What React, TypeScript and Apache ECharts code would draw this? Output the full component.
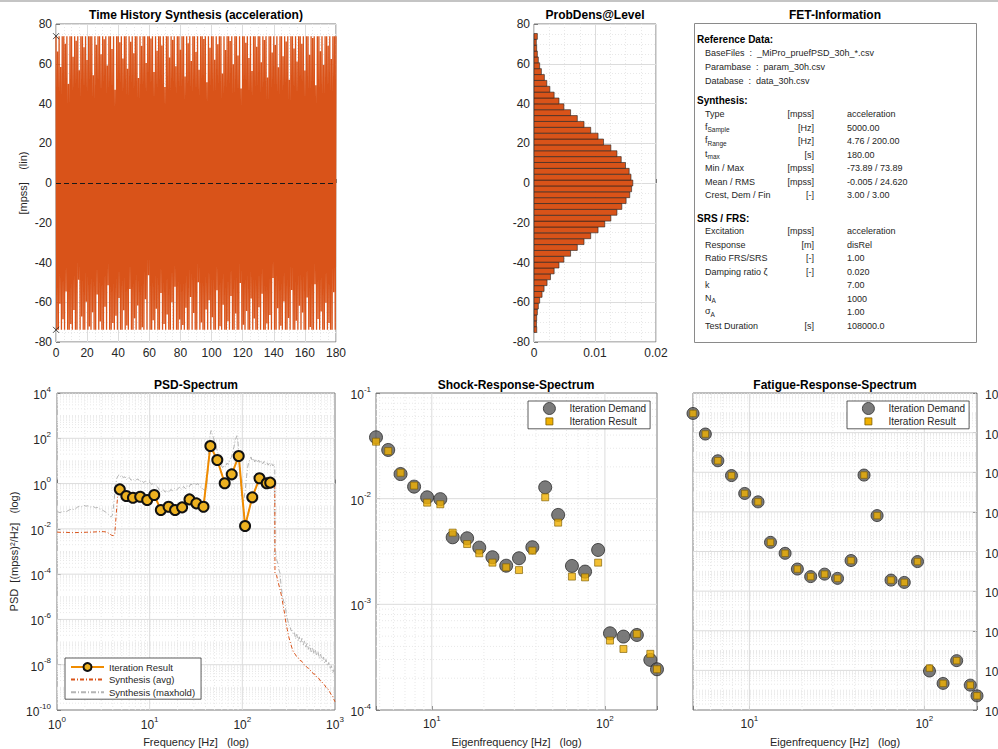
import React, { useEffect, useRef } from "react";
import * as echarts from "echarts";

const FONT = '"Liberation Sans", Arial, Helvetica, sans-serif';
const TXT = "#262626";
const AXC = "#7a7a7a";
const GMAJ = "#dcdcdc";
const GMIN = "#e8e8e8";
const ORANGE = "#d95319";
const YELLOW = "#edb120";

// ---------------- Time history (peaks, alternating upper / lower, 0.5 s apart) ----------------
const thStep = 0.5;
const thUpper = [
  73.89, 66.2, 73.89, 58.4, 73.89, 73.89, 70.1, 73.89, 49.8, 73.89,
  73.89, 63.5, 73.89, 71.6, 73.89, 56.7, 73.89, 73.89, 68.3, 73.89,
  61.9, 73.89, 73.89, 73.89, 54.2, 73.89, 69.5, 73.89, 73.89, 64.8,
  73.89, 72.3, 73.89, 59.1, 73.89, 73.89, 67.4, 73.89, 46.9, 73.89,
  73.89, 70.8, 73.89, 62.6, 73.89, 73.89, 57.5, 73.89, 71.1, 73.89,
  65.3, 73.89, 73.89, 52.8, 73.89, 68.9, 73.89, 73.89, 60.4, 73.89,
  73.89, 72.7, 73.89, 55.9, 73.89, 66.6, 73.89, 73.89, 69.2, 73.89,
  48.3, 73.89, 73.89, 63.1, 73.89, 71.9, 73.89, 58.8, 73.89, 73.89,
  67.0, 73.89, 73.89, 53.6, 73.89, 70.3, 73.89, 61.4, 73.89, 73.89,
  65.9, 73.89, 57.0, 73.89, 73.89, 72.5, 73.89, 50.7, 73.89, 68.1,
  73.89, 73.89, 62.0, 73.89, 69.8, 73.89, 73.89, 55.1, 73.89, 66.9,
  73.89, 73.89, 71.4, 73.89, 59.7, 73.89, 73.89, 64.2, 73.89, 47.6,
  73.89, 73.89, 70.6, 73.89, 62.9, 73.89, 56.3, 73.89, 73.89, 68.6,
  73.89, 73.89, 60.8, 73.89, 72.0, 73.89, 53.1, 73.89, 73.89, 65.6,
  73.89, 69.4, 73.89, 58.2, 73.89, 73.89, 63.8, 73.89, 71.2, 73.89,
  51.9, 73.89, 73.89, 67.7, 73.89, 61.1, 73.89, 73.89, 70.0, 73.89,
  56.6, 73.89, 73.89, 64.5, 73.89, 72.9, 73.89, 49.2, 73.89, 73.89,
  66.3, 73.89, 59.4, 73.89, 73.89, 69.0, 73.89, 62.4, 73.89, 73.89,
  73.89,
];
const thLower = [
  73.89, 73.89, 60.7, 73.89, 68.5, 73.89, 54.6, 73.89, 73.89, 71.0,
  73.89, 63.9, 73.89, 73.89, 48.7, 73.89, 67.2, 73.89, 73.89, 59.8,
  73.89, 72.2, 73.89, 65.0, 73.89, 73.89, 56.1, 73.89, 69.7, 73.89,
  73.89, 62.3, 73.89, 51.5, 73.89, 73.89, 70.4, 73.89, 66.8, 73.89,
  57.9, 73.89, 73.89, 64.0, 73.89, 71.7, 73.89, 53.3, 73.89, 73.89,
  68.0, 73.89, 61.6, 73.89, 73.89, 72.6, 73.89, 58.5, 73.89, 46.4,
  73.89, 73.89, 69.1, 73.89, 63.3, 73.89, 73.89, 55.4, 73.89, 70.9,
  73.89, 66.1, 73.89, 73.89, 60.0, 73.89, 52.2, 73.89, 73.89, 68.7,
  73.89, 71.5, 73.89, 62.8, 73.89, 73.89, 57.3, 73.89, 65.4, 73.89,
  73.89, 49.9, 73.89, 70.2, 73.89, 73.89, 63.6, 73.89, 59.0, 73.89,
  67.5, 73.89, 73.89, 54.0, 73.89, 72.1, 73.89, 61.2, 73.89, 73.89,
  69.6, 73.89, 56.8, 73.89, 73.89, 65.7, 73.89, 73.89, 50.3, 73.89,
  71.3, 73.89, 64.4, 73.89, 73.89, 58.1, 73.89, 68.2, 73.89, 73.89,
  62.5, 73.89, 55.7, 73.89, 73.89, 70.7, 73.89, 66.4, 73.89, 47.8,
  73.89, 73.89, 63.0, 73.89, 71.8, 73.89, 59.6, 73.89, 73.89, 67.9,
  73.89, 53.8, 73.89, 73.89, 69.3, 73.89, 61.7, 73.89, 65.1, 73.89,
  73.89, 57.6, 73.89, 72.4, 73.89, 73.89, 51.0, 73.89, 68.4, 73.89,
  64.7, 73.89, 73.89, 60.3, 73.89, 70.5, 73.89, 73.89, 55.0, 73.89,
];
const thMinMax = [
  [0, 73.89],
  [0, -73.89],
];
const thMean = -0.005;

// ---------------- Probability density ----------------
const histBinWidth = 2.95;
const histDensity = [
  0.00045, 0.0004, 0.00044, 0.00055, 0.00071, 0.00093, 0.00132, 0.00165, 0.00214, 0.0027,
  0.0033, 0.0041, 0.0049, 0.006, 0.0071, 0.0082, 0.0093, 0.0105, 0.0116, 0.0126,
  0.0136, 0.0144, 0.0151, 0.0157, 0.016, 0.0162, 0.0159, 0.0156, 0.015, 0.0143,
  0.0136, 0.0126, 0.0114, 0.0105, 0.0093, 0.0082, 0.0071, 0.006, 0.0049, 0.0041,
  0.0033, 0.0026, 0.0021, 0.0017, 0.00121, 0.00093, 0.00071, 0.00055, 0.00044, 0.00038,
  0.00055,
];

// ---------------- Spectra ----------------
const eigenFreq = [
  4.76, 5.6, 6.6, 7.9, 9.4, 11.2, 13.2, 16.0, 18.8, 22.4, 26.9, 31.9,
  38.1, 45.2, 53.7, 64.5, 76.8, 91.4, 107, 128, 153, 183, 200,
];
const psdIteration = [
  0.556, 0.283, 0.238, 0.263, 0.188, 0.313, 0.068, 0.095, 0.068, 0.089, 0.2, 0.134,
  0.095, 45.6, 11.0, 1.03, 2.56, 16.5, 0.0134, 0.247, 1.71, 1.03, 1.1,
];
const synthAvg = [
  [1.0, 7.2e-3], [1.1, 7.0e-3], [1.2, 7.1e-3], [1.35, 6.9e-3], [1.5, 6.8e-3], [1.7, 6.9e-3],
  [1.9, 7.0e-3], [2.1, 7.1e-3], [2.4, 7.2e-3], [2.7, 7.4e-3], [3.0, 7.6e-3], [3.2, 7.5e-3],
  [3.45, 7.2e-3], [3.65, 6.2e-3], [3.85, 5.3e-3], [4.05, 5.0e-3], [4.2, 6e-3], [4.35, 0.04],
  [4.5, 0.25], [4.65, 0.45], [4.76, 0.54], [5.6, 0.29], [6.6, 0.24], [7.9, 0.26], [9.4, 0.19],
  [11.2, 0.3], [13.2, 0.07], [16.0, 0.093], [18.8, 0.07], [22.4, 0.088], [26.9, 0.2],
  [31.9, 0.13], [38.1, 0.095], [45.2, 45], [53.7, 11], [64.5, 1.05], [76.8, 2.5], [91.4, 16],
  [107, 0.014], [128, 0.25], [153, 1.7], [183, 1.05], [200, 1.1], [212, 1.0], [224, 0.95],
  [225, 1.1e-4], [234, 9e-5], [245, 4e-5], [256, 2e-5], [266, 1e-5], [276, 4e-6], [286, 1.8e-6],
  [296, 6.8e-7], [306, 3.5e-7], [317, 1.7e-7], [327, 1.05e-7], [341, 6e-8], [355, 3.7e-8],
  [372, 2.9e-8], [390, 2.1e-8], [405, 1.95e-8], [419, 1.55e-8], [440, 1.4e-8], [460, 1.02e-8],
  [480, 9.3e-9], [500, 7.5e-9], [520, 6.9e-9], [537, 5.7e-9], [560, 5.1e-9], [585, 3.9e-9],
  [610, 3.8e-9], [635, 2.8e-9], [660, 2.7e-9], [689, 2.0e-9], [715, 1.9e-9], [745, 1.4e-9],
  [775, 1.25e-9], [805, 9.5e-10], [840, 8.6e-10], [870, 6.6e-10], [884, 6.7e-10], [910, 4.8e-10],
  [940, 4.2e-10], [970, 3.0e-10], [1000, 2.3e-10],
];
const synthMaxhold = [
  [1.0, 0.058], [1.08, 0.052], [1.16, 0.06], [1.25, 0.056], [1.35, 0.068], [1.45, 0.075],
  [1.55, 0.07], [1.65, 0.09], [1.75, 0.1], [1.85, 0.095], [1.95, 0.11], [2.05, 0.1],
  [2.15, 0.105], [2.3, 0.092], [2.45, 0.098], [2.6, 0.085], [2.75, 0.088], [2.9, 0.075],
  [3.05, 0.07], [3.2, 0.062], [3.35, 0.055], [3.5, 0.048], [3.65, 0.04], [3.8, 0.034],
  [3.95, 0.038], [4.1, 0.12], [4.25, 0.6], [4.4, 1.6], [4.55, 2.2], [4.7, 2.5], [4.85, 2.1],
  [5.0, 2.3], [5.2, 1.8], [5.4, 2.0], [5.6, 1.5], [5.8, 1.7], [6.0, 1.9], [6.3, 1.4], [6.6, 1.6],
  [6.9, 1.3], [7.2, 1.5], [7.5, 1.6], [7.8, 1.2], [8.2, 1.4], [8.6, 1.1], [9.0, 1.3], [9.5, 1.0],
  [10, 1.15], [10.5, 0.9], [11, 1.05], [11.6, 0.85], [12.2, 0.7], [12.8, 0.5], [13.4, 0.45],
  [14, 0.55], [14.7, 0.42], [15.4, 0.5], [16.1, 0.4], [16.9, 0.55], [17.7, 0.48], [18.5, 0.6],
  [19.4, 0.5], [20.3, 0.62], [21.2, 0.7], [22.2, 0.55], [23.2, 0.75], [24.3, 0.6], [25.4, 0.8],
  [26.6, 0.7], [27.8, 0.95], [29.1, 0.85], [30.4, 1.1], [31.8, 0.9], [33.2, 1.0], [34.7, 0.75],
  [36.3, 0.65], [38, 0.55], [39.5, 0.5], [41, 0.6], [42.3, 2.5], [43.5, 30], [44.8, 140],
  [46, 220], [47.3, 150], [48.7, 110], [50.2, 70], [51.8, 45], [53.5, 30], [55.3, 18],
  [57.2, 10], [59.2, 6.5], [61.3, 5], [63.5, 6.5], [65.8, 5.5], [68.2, 8], [70.7, 7], [73.3, 11],
  [76, 14], [78.8, 25], [81.6, 45], [84.5, 90], [87.5, 130], [90, 60], [92.5, 12], [95, 2.5],
  [97.5, 0.5], [100, 0.15], [102.5, 0.12], [105, 0.25], [108, 0.6], [111, 2], [114, 5], [117, 9],
  [120, 11], [124, 15], [128, 10], [132, 13], [136, 9], [140, 12], [145, 8.5], [150, 11],
  [155, 8], [160, 10], [166, 7.5], [172, 9.5], [178, 7], [184, 8.5], [190, 6.5], [196, 8],
  [202, 6], [208, 7.5], [214, 6], [220, 7], [224, 5], [225, 1e-3], [230, 7e-4], [236, 4e-4],
  [242, 3e-4], [248, 1.6e-4], [255, 1.1e-4], [262, 3e-5], [270, 1.2e-5], [280, 6e-6],
  [289, 5e-6], [298, 1.8e-6], [308, 9e-7], [318, 6e-7], [327, 4.8e-7], [336, 3.2e-7],
  [345, 3.3e-7], [355, 2.2e-7], [365, 2.6e-7], [375, 1.4e-7], [387, 2.2e-7], [400, 1.1e-7],
  [412, 1.7e-7], [425, 9e-8], [440, 1.45e-7], [455, 7.5e-8], [470, 1.15e-7], [485, 6e-8],
  [500, 9.5e-8], [517, 4.8e-8], [535, 7.2e-8], [553, 3.7e-8], [572, 5.8e-8], [592, 3.1e-8],
  [612, 4.7e-8], [633, 2.5e-8], [655, 3.8e-8], [678, 1.9e-8], [700, 2.9e-8], [725, 1.5e-8],
  [750, 2.2e-8], [775, 1.15e-8], [800, 1.7e-8], [828, 8.8e-9], [856, 1.25e-8], [885, 6.5e-9],
  [915, 9e-9], [945, 4.4e-9], [975, 6e-9], [1000, 3.5e-9],
];
const srsDemand = [
  0.0381, 0.0289, 0.0171, 0.013, 0.0103, 0.0099, 0.00431, 0.00422, 0.00344, 0.00279, 0.00232, 0.00273,
  0.00347, 0.0128, 0.00702, 0.00231, 0.00204, 0.00327, 0.000532, 0.000495, 0.000513, 0.000298, 0.000243,
];
const srsResult = [
  0.0346, 0.0282, 0.0176, 0.0133, 0.00917, 0.00885, 0.00477, 0.00372, 0.00304, 0.00248, 0.00224, 0.00211,
  0.00322, 0.0103, 0.00593, 0.00183, 0.0018, 0.00248, 0.000454, 0.000378, 0.000525, 0.00034, 0.000243,
];
const frsDemand = [
  9.3e-10, 8.5e-11, 3.8e-12, 6.8e-13, 8.5e-14, 3.2e-14, 2.9e-16, 8.1e-17, 1.3e-17, 5.4e-18, 7.2e-18, 4.4e-18,
  3.5e-17, 7.2e-13, 6.5e-15, 3.6e-18, 2.75e-18, 3.1e-17, 9.3e-23, 2.2e-23, 3.1e-22, 1.8e-23, 5.2e-24,
];
const frsResult = [
  9.3e-10, 8.5e-11, 3.8e-12, 6.8e-13, 8.5e-14, 3.2e-14, 2.9e-16, 8.1e-17, 1.3e-17, 5.4e-18, 7.2e-18, 4.4e-18,
  3.5e-17, 7.2e-13, 6.5e-15, 3.6e-18, 2.75e-18, 3.1e-17, 1.3e-22, 2.2e-23, 3.1e-22, 1.8e-23, 5.2e-24,
];

// ---------------- FET information texts ----------------
const fetRef = [
  ["BaseFiles", "_MiPro_pruefPSD_30h_*.csv"],
  ["Parambase", "param_30h.csv"],
  ["Database", "data_30h.csv"],
];
const fetSynth = [
  ["{m|Type}", "[mpss]", "acceleration"],
  ["{m|f}{sub|Sample}", "[Hz]", "5000.00"],
  ["{m|f}{sub|Range}", "[Hz]", "4.76 / 200.00"],
  ["{m|t}{sub|max}", "[s]", "180.00"],
  ["{m|Min / Max}", "[mpss]", "-73.89 / 73.89"],
  ["{m|Mean / RMS}", "[mpss]", "-0.005 / 24.620"],
  ["{m|Crest, Dem / Fin}", "[-]", "3.00 / 3.00"],
];
const fetSrs = [
  ["{m|Excitation}", "[mpss]", "acceleration"],
  ["{m|Response}", "[m]", "disRel"],
  ["{m|Ratio FRS/SRS}", "[-]", "1.00"],
  ["{m|Damping ratio ζ}", "[-]", "0.020"],
  ["{m|k}", "", "7.00"],
  ["{m|N}{sub|A}", "", "1000"],
  ["{m|σ}{sub|A}", "", "1.00"],
  ["{m|Test Duration}", "[s]", "108000.0"],
];

// ---------------- helpers ----------------
const supRich = {
  b: { fontSize: 12, fontFamily: FONT, color: TXT, verticalAlign: "bottom", lineHeight: 12 },
  s: { fontSize: 8, fontFamily: FONT, color: TXT, verticalAlign: "top", lineHeight: 16 },
};
const powLabel = (v: number) => {
  const e = Math.log10(v);
  const r = Math.round(e);
  if (Math.abs(e - r) > 1e-6) return "";
  return `{b|10}{s|${r}}`;
};
const expLabel = (v: number) => `{b|10}{s|${v}}`;

function logGridValues(lo: number, hi: number, majorStep: number) {
  const out: number[][] = [];
  const e0 = Math.floor(Math.log10(lo) + 1e-9);
  const e1 = Math.ceil(Math.log10(hi) - 1e-9);
  for (let e = e0; e <= e1; e++) {
    for (let k = 1; k <= 9; k++) {
      const v = k * Math.pow(10, e);
      if (v <= lo * 1.0001 || v >= hi * 0.9999) continue;
      out.push([v, k === 1 && Math.abs(e % majorStep) === 0 ? 1 : 0]);
    }
  }
  return out;
}

function gridLines(xIdx: number, yIdx: number, dir: "v" | "h", vals: number[][], from: number, to: number) {
  return {
    type: "custom",
    xAxisIndex: xIdx,
    yAxisIndex: yIdx,
    silent: true,
    z: 1,
    clip: false,
    dimensions: ["gx", "gy", "gm"],
    encode: { x: 0, y: 1 },
    data: vals.map((p) => (dir === "v" ? [p[0], from, p[1]] : [from, p[0], p[1]])),
    renderItem: (_p: any, api: any) => {
      const x = api.value(0);
      const y = api.value(1);
      const m = api.value(2);
      const a = api.coord([x, y]);
      const b = dir === "v" ? api.coord([x, to]) : api.coord([to, y]);
      return {
        type: "line",
        shape: { x1: a[0], y1: a[1], x2: b[0], y2: b[1] },
        style: m ? { stroke: GMAJ, lineWidth: 1 } : { stroke: GMIN, lineWidth: 1, lineDash: [1, 2] },
      };
    },
  };
}

const tickLab = { color: TXT, fontFamily: FONT, fontSize: 12 };
const nameStyle = { color: TXT, fontFamily: FONT, fontSize: 11 };
const inTick = { show: true, inside: true, length: 4, lineStyle: { color: AXC } };
const noLine = { show: false };
const hiddenSymbol = { color: "rgba(0,0,0,0)", borderColor: "rgba(0,0,0,0)", borderWidth: 0, opacity: 0 };

function buildOption() {
  const thData: number[][] = [];
  for (let i = 0; i < thUpper.length + thLower.length; i++) {
    const v = i % 2 === 0 ? thUpper[i / 2] : -thLower[(i - 1) / 2];
    thData.push([i * thStep, v]);
  }
  const histCenters = histDensity.map((_, i) => (i - 25) * histBinWidth);
  const histData = histDensity.map((d, i) => [d, histCenters[i]]);

  const gridBase = { show: true, borderColor: AXC, borderWidth: 1, backgroundColor: "#fff", containLabel: false, outerBoundsMode: "none" };

  const titles = [
    { text: "Time History Synthesis (acceleration)", left: 196, top: 9 },
    { text: "ProbDens@Level", left: 595, top: 9 },
    { text: "FET-Information", left: 835, top: 9 },
    { text: "PSD-Spectrum", left: 196, top: 379 },
    { text: "Shock-Response-Spectrum", left: 516, top: 379 },
    { text: "Fatigue-Response-Spectrum", left: 835, top: 379 },
  ].map((t) => ({
    ...t,
    textAlign: "center",
    padding: 0,
    textStyle: { fontSize: 12, fontWeight: "bold", color: "#000", fontFamily: FONT },
  }));

  // ----- FET graphic -----
  const fetEls: any[] = [];
  const head = (text: string, y: number) =>
    fetEls.push({
      type: "text",
      x: 697,
      y,
      silent: true,
      style: { text, fontSize: 10, fontWeight: "bold", fontFamily: FONT, fill: "#000", align: "left", verticalAlign: "middle", textAlign: "left", textVerticalAlign: "middle" },
    });
  const cell = (text: string, x: number, y: number, align: string, rich?: boolean) =>
    fetEls.push({
      type: "text",
      x,
      y,
      silent: true,
      style: {
        text,
        fontSize: 9,
        fontFamily: FONT,
        fill: TXT,
        align,
        verticalAlign: "middle",
        textAlign: align,
        textVerticalAlign: "middle",
        rich: rich
          ? {
              m: { fontSize: 9, fontFamily: FONT, fill: TXT, color: TXT, verticalAlign: "top", lineHeight: 9 },
              sub: { fontSize: 6.5, fontFamily: FONT, fill: TXT, color: TXT, verticalAlign: "bottom", lineHeight: 11 },
            }
          : undefined,
      },
    });
  fetEls.push({
    type: "rect",
    shape: { x: 694.5, y: 23.5, width: 282, height: 319 },
    style: { fill: "#fff", stroke: "#8a8a8a", lineWidth: 1 },
    silent: true,
  });
  head("Reference Data:", 39);
  fetRef.forEach((r, i) => cell(`${r[0]}\u00a0\u00a0:\u00a0\u00a0${r[1]}`, 705, 53 + 14 * i, "left"));
  head("Synthesis:", 100);
  fetSynth.forEach((r, i) => {
    const y = 114 + 13.5 * i;
    cell(r[0], 705, y, "left", true);
    if (r[1]) cell(r[1], 814, y, "right");
    cell(r[2], 847, y, "left");
  });
  head("SRS / FRS:", 218);
  fetSrs.forEach((r, i) => {
    const y = 231 + 13.5 * i;
    cell(r[0], 705, y, "left", true);
    if (r[1]) cell(r[1], 814, y, "right");
    cell(r[2], 847, y, "left");
  });

  const psdXGrid = logGridValues(1, 1000, 1);
  const psdYGrid = logGridValues(1e-10, 1e4, 2);
  const srsXGrid = logGridValues(4.76, 200, 1);
  const srsYGrid = logGridValues(1e-4, 1e-1, 1);
  const frsYGrid = logGridValues(1e-24, 1e-8, 2);

  const squareIcon = "path://M0,0M30,12M11.5,2.5H18.5V9.5H11.5Z";
  const legendBox = {
    orient: "vertical",
    backgroundColor: "#fff",
    borderColor: "#333",
    borderWidth: 0.8,
    borderRadius: 0,
    selectedMode: false,
    textStyle: { fontSize: 10, color: TXT, fontFamily: FONT },
  };

  return {
    animation: false,
    backgroundColor: "#fff",
    textStyle: { fontFamily: FONT },
    title: titles,
    grid: [
      { ...gridBase, left: 56, top: 24, width: 280, height: 318 },
      { ...gridBase, left: 534, top: 24, width: 122, height: 318 },
      { ...gridBase, left: 57, top: 393, width: 278, height: 317 },
      { ...gridBase, left: 376, top: 393, width: 281, height: 317 },
      { ...gridBase, left: 693, top: 393, width: 284, height: 317 },
    ],
    xAxis: [
      {
        type: "value", gridIndex: 0, min: 0, max: 180, interval: 20,
        axisLine: noLine, axisTick: inTick,
        axisLabel: { ...tickLab, margin: 5 },
        splitLine: { show: true, lineStyle: { color: GMAJ, width: 1 } },
        minorTick: { show: false, splitNumber: 4 },
        minorSplitLine: { show: true, lineStyle: { color: GMIN, width: 1, type: [1, 2] } },
      },
      {
        type: "value", gridIndex: 1, min: 0, max: 0.02, interval: 0.01,
        axisLine: noLine, axisTick: inTick,
        axisLabel: { ...tickLab, margin: 5 },
        splitLine: { show: true, lineStyle: { color: GMAJ, width: 1 } },
        minorTick: { show: false, splitNumber: 4 },
        minorSplitLine: { show: true, lineStyle: { color: GMIN, width: 1, type: [1, 2] } },
      },
      {
        type: "log", gridIndex: 2, min: 1, max: 1000, logBase: 10,
        axisLine: noLine, axisTick: inTick,
        axisLabel: { formatter: powLabel, rich: supRich, margin: 5, showMinLabel: true, showMaxLabel: true },
        splitLine: { show: false }, minorSplitLine: { show: false },
        name: "Frequency\u00a0[Hz]\u00a0\u00a0\u00a0(log)", nameLocation: "middle", nameGap: 26, nameTextStyle: nameStyle,
      },
      {
        type: "log", gridIndex: 3, min: 4.76, max: 200, logBase: 10,
        axisLine: noLine, axisTick: inTick,
        axisLabel: { formatter: powLabel, rich: supRich, margin: 4 },
        splitLine: { show: false }, minorSplitLine: { show: false },
        name: "Eigenfrequency\u00a0[Hz]\u00a0\u00a0\u00a0(log)", nameLocation: "middle", nameGap: 26, nameTextStyle: nameStyle,
      },
      {
        type: "log", gridIndex: 4, min: 4.76, max: 200, logBase: 10,
        axisLine: noLine, axisTick: inTick,
        axisLabel: { formatter: powLabel, rich: supRich, margin: 4 },
        splitLine: { show: false }, minorSplitLine: { show: false },
        name: "Eigenfrequency\u00a0[Hz]\u00a0\u00a0\u00a0(log)", nameLocation: "middle", nameGap: 26, nameTextStyle: nameStyle,
      },
    ],
    yAxis: [
      {
        type: "value", gridIndex: 0, min: -80, max: 80, interval: 20, position: "left",
        axisLine: noLine, axisTick: inTick,
        axisLabel: { ...tickLab, margin: 4 },
        splitLine: { show: true, lineStyle: { color: GMAJ, width: 1 } },
        minorTick: { show: false, splitNumber: 4 },
        minorSplitLine: { show: true, lineStyle: { color: GMIN, width: 1, type: [1, 2] } },
        name: "[mpss]\u00a0\u00a0\u00a0\u00a0(lin)", nameLocation: "middle", nameGap: 28, nameTextStyle: nameStyle,
      },
      {
        type: "value", gridIndex: 1, min: -80, max: 80, interval: 20, position: "left",
        axisLine: noLine, axisTick: inTick,
        axisLabel: { ...tickLab, margin: 4 },
        splitLine: { show: true, lineStyle: { color: GMAJ, width: 1 } },
        minorTick: { show: false, splitNumber: 4 },
        minorSplitLine: { show: true, lineStyle: { color: GMIN, width: 1, type: [1, 2] } },
      },
      {
        type: "log", gridIndex: 2, min: 1e-10, max: 1e4, logBase: 10, position: "left",
        axisLine: noLine, axisTick: { show: false }, axisLabel: { show: false },
        splitLine: { show: false }, minorSplitLine: { show: false },
      },
      {
        type: "value", gridIndex: 2, min: -10, max: 4, interval: 2, position: "left",
        axisLine: noLine, axisTick: inTick,
        axisLabel: { formatter: expLabel, rich: supRich, margin: 6, showMinLabel: true, showMaxLabel: true },
        splitLine: { show: false },
        name: "PSD\u00a0\u00a0[(mpss)²/Hz]\u00a0\u00a0\u00a0(log)", nameLocation: "middle", nameGap: 38, nameTextStyle: nameStyle,
      },
      {
        type: "log", gridIndex: 3, min: 1e-4, max: 1e-1, logBase: 10, position: "left",
        axisLine: noLine, axisTick: inTick,
        axisLabel: { formatter: powLabel, rich: supRich, margin: 5 },
        splitLine: { show: false }, minorSplitLine: { show: false },
      },
      {
        type: "log", gridIndex: 4, min: 1e-24, max: 1e-8, logBase: 10, position: "right",
        axisLine: noLine, axisTick: { show: false }, axisLabel: { show: false },
        splitLine: { show: false }, minorSplitLine: { show: false },
      },
      {
        type: "value", gridIndex: 4, min: -24, max: -8, interval: 2, position: "right",
        axisLine: noLine, axisTick: inTick,
        axisLabel: { formatter: expLabel, rich: supRich, margin: 8, showMinLabel: true, showMaxLabel: true },
        splitLine: { show: false },
      },
    ],
    legend: [
      {
        ...legendBox,
        data: [
          { name: "Iteration Result" },
          { name: "Synthesis (avg)", itemStyle: hiddenSymbol },
          { name: "Synthesis (maxhold)", itemStyle: hiddenSymbol },
        ],
        left: 65, top: 658, itemWidth: 33, itemHeight: 10, itemGap: 2.6,
        padding: [4, 6, 2, 5],
        textStyle: { fontSize: 9.5, color: TXT, fontFamily: FONT },
      },
      {
        ...legendBox,
        data: [
          { name: "Iteration Demand", icon: "circle", itemStyle: { color: "#595959", borderColor: "#2b2b2b", borderWidth: 1 } },
          { name: "Iteration Result", icon: squareIcon, itemStyle: { color: "#f0b000", borderColor: "#7a5c00", borderWidth: 0.8 } },
        ],
        left: 528, top: 401, itemWidth: 30, itemHeight: 12, itemGap: 0,
        padding: [1, 4, 1, 6],
      },
      {
        ...legendBox,
        data: [
          { name: "Iteration Demand", icon: "circle", itemStyle: { color: "#595959", borderColor: "#2b2b2b", borderWidth: 1 } },
          { name: "Iteration Result", icon: squareIcon, itemStyle: { color: "#f0b000", borderColor: "#7a5c00", borderWidth: 0.8 } },
        ],
        left: 847, top: 401, itemWidth: 30, itemHeight: 12, itemGap: 0,
        padding: [1, 4, 1, 6],
      },
    ],
    graphic: [
      { type: "rect", shape: { x: 0, y: 0, width: 998, height: 2 }, style: { fill: "#c4c4c4" }, silent: true },
      { type: "group", children: fetEls },
    ],
    series: [
      // PSD (first, so that its legend picks these series)
      {
        name: "Synthesis (maxhold)", type: "line", xAxisIndex: 2, yAxisIndex: 2, data: synthMaxhold,
        symbol: "none", z: 3, silent: true,
        lineStyle: { color: "#b4b4b4", width: 1, type: [5, 2, 1, 2] }, itemStyle: { color: "#b4b4b4" },
      },
      {
        name: "Synthesis (avg)", type: "line", xAxisIndex: 2, yAxisIndex: 2, data: synthAvg,
        symbol: "none", z: 4, silent: true,
        lineStyle: { color: ORANGE, width: 1, type: [4, 2, 1, 2] }, itemStyle: { color: ORANGE },
      },
      {
        name: "Iteration Result", type: "line", xAxisIndex: 2, yAxisIndex: 2,
        data: eigenFreq.map((f, i) => [f, psdIteration[i]]),
        symbol: "circle", symbolSize: 10, showSymbol: true, z: 5, silent: true, clip: false,
        lineStyle: { color: "#f08c00", width: 2 },
        itemStyle: { color: YELLOW, borderColor: "#111", borderWidth: 2 },
      },
      gridLines(2, 2, "v", psdXGrid, 1e-10, 1e4),
      gridLines(2, 2, "h", psdYGrid, 1, 1000),
      // Time history
      {
        name: "Time History", type: "line", xAxisIndex: 0, yAxisIndex: 0, data: thData,
        symbol: "none", z: 3, silent: true,
        lineStyle: { color: ORANGE, width: 1.3 }, itemStyle: { color: ORANGE },
        markLine: {
          silent: true, symbol: ["none", "none"], label: { show: false },
          lineStyle: { color: "#1a1a1a", type: [5, 3], width: 1 },
          data: [{ yAxis: thMean }],
        },
      },
      {
        name: "Min/Max", type: "scatter", xAxisIndex: 0, yAxisIndex: 0, data: thMinMax,
        symbol: "path://M0,0L10,10M10,0L0,10", symbolSize: 6, clip: false, z: 6, silent: true,
        itemStyle: { color: "none", borderColor: "#222", borderWidth: 1 },
      },
      // Probability density
      {
        name: "ProbDens", type: "custom", xAxisIndex: 1, yAxisIndex: 1, z: 3, clip: false, silent: true,
        dimensions: ["density", "level"], encode: { x: 0, y: 1 },
        data: histData,
        renderItem: (_p: any, api: any) => {
          const d = api.value(0);
          const c = api.value(1);
          const a = api.coord([0, c + histBinWidth / 2]);
          const b = api.coord([d, c - histBinWidth / 2]);
          return {
            type: "rect",
            shape: { x: a[0], y: a[1], width: b[0] - a[0], height: b[1] - a[1] },
            style: { fill: ORANGE, stroke: "#222", lineWidth: 0.6 },
          };
        },
      },
      // SRS
      gridLines(3, 4, "v", srsXGrid, 1e-4, 1e-1),
      gridLines(3, 4, "h", srsYGrid, 4.76, 200),
      {
        name: "Iteration Demand", type: "scatter", xAxisIndex: 3, yAxisIndex: 4,
        data: eigenFreq.map((f, i) => [f, srsDemand[i]]),
        symbol: "circle", symbolSize: 13, clip: false, z: 4, silent: true,
        itemStyle: { color: "#595959", borderColor: "#2b2b2b", borderWidth: 1 },
      },
      {
        name: "Iteration Result", type: "scatter", xAxisIndex: 3, yAxisIndex: 4,
        data: eigenFreq.map((f, i) => [f, srsResult[i]]),
        symbol: "rect", symbolSize: 7, clip: false, z: 5, silent: true,
        itemStyle: { color: "#f0b000", borderColor: "#7a5c00", borderWidth: 0.8 },
      },
      // FRS
      gridLines(4, 5, "v", srsXGrid, 1e-24, 1e-8),
      gridLines(4, 5, "h", frsYGrid, 4.76, 200),
      {
        name: "Iteration Demand", type: "scatter", xAxisIndex: 4, yAxisIndex: 5,
        data: eigenFreq.map((f, i) => [f, frsDemand[i]]),
        symbol: "circle", symbolSize: 12, clip: false, z: 4, silent: true,
        itemStyle: { color: "#595959", borderColor: "#2b2b2b", borderWidth: 1 },
      },
      {
        name: "Iteration Result", type: "scatter", xAxisIndex: 4, yAxisIndex: 5,
        data: eigenFreq.map((f, i) => [f, frsResult[i]]),
        symbol: "rect", symbolSize: 6.5, clip: false, z: 5, silent: true,
        itemStyle: { color: "#f0b000", borderColor: "#7a5c00", borderWidth: 0.8 },
      },
    ],
  };
}

export default function App() {
  const ref = useRef<HTMLDivElement>(null);
  useEffect(() => {
    if (!ref.current) return;
    const chart = echarts.init(ref.current, undefined, { renderer: "svg" });
    chart.setOption(buildOption() as any);
    return () => chart.dispose();
  }, []);
  return (
    <div
      ref={ref}
      style={{ position: "fixed", left: 0, top: 0, width: 998, height: 749, background: "#fff" }}
    />
  );
}
